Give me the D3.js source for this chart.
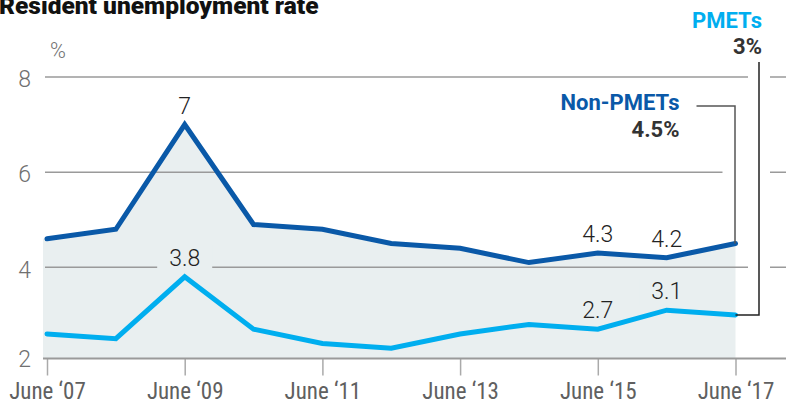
<!DOCTYPE html>
<html><head><meta charset="utf-8">
<script src="https://cdn.jsdelivr.net/npm/d3@7/dist/d3.min.js"></script>
<style>
html,body{margin:0;padding:0;background:#fff;}
svg{display:block;}
</style></head>
<body>
<svg id="chart" width="786" height="401"></svg>
<script>
// ---- data ----
const years = [2007, 2008, 2009, 2010, 2011, 2012, 2013, 2014, 2015, 2016, 2017];
const nonPmets = [4.6, 4.8, 7.0, 4.9, 4.8, 4.5, 4.4, 4.1, 4.3, 4.2, 4.5];
const pmets = [2.6, 2.5, 3.8, 2.7, 2.4, 2.3, 2.6, 2.8, 2.7, 3.1, 3.0];
const yTicks = [2, 4, 6, 8];
const xTicks = [2007, 2009, 2011, 2013, 2015, 2017];
const xTickLabels = ["June \u201807", "June \u201809", "June \u201811", "June \u201813", "June \u201815", "June \u201817"];
const nonPmetsLabelled = [2009, 2015, 2016];
const pmetsLabelled = [2009, 2015, 2016];
const title = "Resident unemployment rate";
const unit = "%";
const seriesNames = ["Non-PMETs", "PMETs"];

// ---- styles ----
const C_DARK = "#0a59a8", C_LIGHT = "#00aeef", C_AREA = "#e9eff0", C_GRID = "#9a9a9a";
const NUM_FONT = "Roboto, 'Open Sans', sans-serif";
const AX_FONT = "'Liberation Sans Narrow', 'Roboto Condensed', 'DejaVu Sans Condensed', Roboto, sans-serif";

const svg = d3.select("#chart");
const x = d3.scaleLinear().domain([2007, 2017]).range([47, 735.5]);
const y = d3.scaleLinear().domain([2, 8]).range([362.5, 77]);
const baseY = y(2) - 4;
const plotLeft = x(2007) - 4, plotRight = 786;

const nonData = years.map((yr, i) => ({yr, v: nonPmets[i]}));
const pmData = years.map((yr, i) => ({yr, v: pmets[i]}));

// title
svg.append("text").attr("x", -1).attr("y", 13.5).text(title)
  .style("font-family", "Roboto, sans-serif").style("font-weight", 900)
  .style("font-size", "24.5px").attr("fill", "#111");

// area
svg.append("path").datum(nonData)
  .attr("d", d3.area().x(d => x(d.yr)).y0(baseY).y1(d => y(d.v)))
  .attr("fill", C_AREA);
svg.append("rect").attr("x", plotLeft).attr("y", y(nonPmets[0])).attr("width", x(2007) - plotLeft)
  .attr("height", baseY - y(nonPmets[0])).attr("fill", C_AREA);

// gridlines
const grid = svg.append("g");
yTicks.filter(t => t > 2).forEach(t => {
  grid.append("line").attr("x1", plotLeft + 2).attr("x2", plotRight)
    .attr("y1", y(t)).attr("y2", y(t)).attr("stroke", C_GRID).attr("stroke-width", 1.5);
});

// y tick labels
svg.append("g").selectAll("text").data(yTicks).join("text")
  .attr("x", 31).attr("y", t => t === 2 ? baseY : y(t) + 2).attr("dy", "0.36em")
  .attr("text-anchor", "end").text(t => t)
  .style("font-family", NUM_FONT).style("font-weight", 300).style("font-size", "23px")
  .attr("fill", "#707070");
svg.append("text").attr("x", 50).attr("y", 58).text(unit)
  .style("font-family", NUM_FONT).style("font-weight", 300).style("font-size", "21.5px")
  .attr("fill", "#707070");

// x axis
const xAxis = d3.axisBottom(x).tickValues(xTicks).tickSize(17)
  .tickFormat((d, i) => xTickLabels[i]);
const gx = svg.append("g").attr("transform", `translate(0,${baseY})`).call(xAxis);
gx.select(".domain").remove();
gx.selectAll(".tick line").attr("stroke", "#aaa").attr("stroke-width", 1.5);
gx.selectAll(".tick text").attr("y", 40).attr("dy", 0).attr("fill", "#606060")
  .style("font-family", AX_FONT).style("font-size", "23px");
svg.append("line").attr("x1", plotLeft).attr("x2", plotRight).attr("y1", baseY).attr("y2", baseY)
  .attr("stroke", C_GRID).attr("stroke-width", 2.2);

// leader geometry
const lastYr = years[years.length - 1];
const nonEnd = {x: x(lastYr), y: y(nonPmets[nonPmets.length - 1])};
const pmEnd = {x: x(lastYr), y: y(pmets[pmets.length - 1])};
const nonLegY = 106, pmLegTop = 62;
const pmLeaderX = x(lastYr) + 23.5;

// white halos around leaders over gridlines
svg.append("line").attr("x1", nonEnd.x).attr("x2", nonEnd.x).attr("y1", nonLegY).attr("y2", nonEnd.y)
  .attr("stroke", "#fff").attr("stroke-width", 26);
svg.append("line").attr("x1", pmLeaderX).attr("x2", pmLeaderX).attr("y1", pmLegTop).attr("y2", pmEnd.y)
  .attr("stroke", "#fff").attr("stroke-width", 22);

// value labels
function addLabels(data, labelled, withBg) {
  const g = svg.append("g");
  data.filter(d => labelled.includes(d.yr)).forEach(d => {
    const t = g.append("text").attr("x", x(d.yr)).attr("y", y(d.v) - 11)
      .attr("text-anchor", "middle").text(d.v % 1 === 0 ? d.v.toFixed(0) : d.v.toFixed(1))
      .style("font-family", NUM_FONT).style("font-weight", 300).style("font-size", "23px")
      .attr("fill", "#222");
    if (withBg) {
      const bb = t.node().getBBox();
      g.insert("rect", "text").attr("x", bb.x - 12).attr("y", bb.y).attr("width", bb.width + 24)
        .attr("height", bb.height).attr("fill", C_AREA);
    }
  });
}
addLabels(nonData, nonPmetsLabelled, false);
addLabels(pmData, pmetsLabelled, true);

// lines
const line = d3.line().x(d => x(d.yr)).y(d => y(d.v));
svg.append("path").datum(nonData).attr("d", line).attr("fill", "none")
  .attr("stroke", C_DARK).attr("stroke-width", 5).attr("stroke-linecap", "round");
svg.append("path").datum(pmData).attr("d", line).attr("fill", "none")
  .attr("stroke", C_LIGHT).attr("stroke-width", 5).attr("stroke-linecap", "round");

// leaders
svg.append("polyline").attr("points", `${nonEnd.x - 39},${nonLegY} ${nonEnd.x - 0.5},${nonLegY} ${nonEnd.x - 0.5},${nonEnd.y}`)
  .attr("fill", "none").attr("stroke", "#555").attr("stroke-width", 1.5);
svg.append("polyline").attr("points", `${pmLeaderX},${pmLegTop} ${pmLeaderX},${pmEnd.y} ${pmEnd.x},${pmEnd.y}`)
  .attr("fill", "none").attr("stroke", "#222").attr("stroke-width", 1.5);

// legend labels
function legend(xr, y1, name, val, color) {
  svg.append("text").attr("x", xr).attr("y", y1).attr("text-anchor", "end").text(name)
    .style("font-family", "Roboto, sans-serif").style("font-weight", 700).style("font-size", "22px")
    .attr("fill", color);
  svg.append("text").attr("x", xr).attr("y", y1 + 26.5).attr("text-anchor", "end").text(val + "%")
    .style("font-family", "Roboto, sans-serif").style("font-weight", 700).style("font-size", "22px")
    .attr("fill", "#333");
}
legend(762, 27.5, seriesNames[1], pmets[pmets.length - 1], C_LIGHT);
legend(679.5, 110, seriesNames[0], nonPmets[nonPmets.length - 1], C_DARK);
</script>
</body></html>
